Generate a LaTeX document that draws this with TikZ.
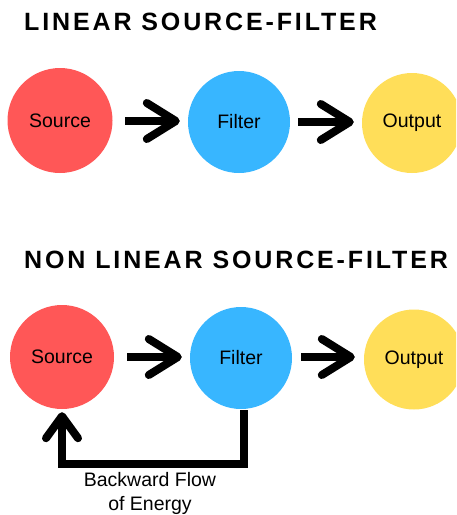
\documentclass[tikz,border=0pt]{standalone}
\usepackage{fontspec}
\setmainfont{Liberation Sans}
\newfontfamily\titlefont{Liberation Sans}[LetterSpace=11.5]
\usetikzlibrary{calc}
\definecolor{cred}{HTML}{FF5757}
\definecolor{cblue}{HTML}{38B6FF}
\definecolor{cyel}{HTML}{FFDE59}
\tikzset{
  ttl/.style={anchor=base west, inner sep=0pt, font=\titlefont\bfseries\fontsize{25}{30}\selectfont},
  blob/.style={circle, inner sep=0pt, draw=none, font=\fontsize{19.5}{24}\selectfont},
  shaft/.style={line width=8pt, line cap=butt},
  chevhead/.style={line width=8pt, line cap=round, line join=round},
  fb/.style={line width=8pt, line cap=butt, line join=miter},
  lbl/.style={align=center, inner sep=0pt, font=\fontsize{19.5}{24}\selectfont},
}
\newcommand\chevarrow[2]{%
  \draw[shaft] (#1) -- ($(#1 -| #2)+(-6,0)$);
  \draw[chevhead] ($(#1 -| #2)+(-33,-18)$) -- ($(#1 -| #2)+(-4,0)$) -- ($(#1 -| #2)+(-33,18)$);
}
\begin{document}
\begin{tikzpicture}[x=1pt,y=-1pt]
\useasboundingbox (0,0) rectangle (456,515);
\clip (0,0) rectangle (456,515);
% titles
\node[ttl] (t1) at (24,30) {LINEAR SOURCE-FILTER};
\node[ttl] (t2) at (24,268) {NON LINEAR SOURCE-FILTER};
% row 1
\node[blob, fill=cred, minimum size=105pt] (s1) at (60,120.5) {Source};
\node[blob, fill=cblue, minimum size=102pt] (f1) at (239,122) {Filter};
\node[blob, fill=cyel, minimum size=100pt] (o1) at (412,123) {Output};
\coordinate (a1t) at ($(s1.east)+(12.5,0.5)$);
\coordinate (a1h) at ($(f1.west)+(-8,0)$);
\coordinate (a2t) at ($(f1.east)+(8,0)$);
\coordinate (a2h) at ($(o1.west)+(-8,0)$);
\chevarrow{a1t}{a1h}
\chevarrow{a2t}{a2h}
% row 2
\node[blob, fill=cred, minimum size=104pt] (s2) at (62,357) {Source};
\node[blob, fill=cblue, minimum size=102pt] (f2) at (241,358) {Filter};
\node[blob, fill=cyel, minimum size=100pt] (o2) at (414,359.5) {Output};
\coordinate (b1t) at ($(s2.east)+(13,0)$);
\coordinate (b1h) at ($(f2.west)+(-8,0)$);
\coordinate (b2t) at ($(f2.east)+(9,-1)$);
\coordinate (b2h) at ($(o2.west)+(-9,0)$);
\chevarrow{b1t}{b1h}
\chevarrow{b2t}{b2h}
% feedback
\coordinate (fbtip) at ($(s2.south)+(0,7)$);
\draw[fb] ($(f2.south)+(3,1)$) -- ++(0,54) -| ($(fbtip)+(0,3)$);
\draw[chevhead] ($(fbtip)+(-16,22)$) -- (fbtip) -- ($(fbtip)+(16,22)$);
\node[lbl, anchor=base] (lab) at (150,510) {Backward Flow\\of Energy};
\end{tikzpicture}
\end{document}
